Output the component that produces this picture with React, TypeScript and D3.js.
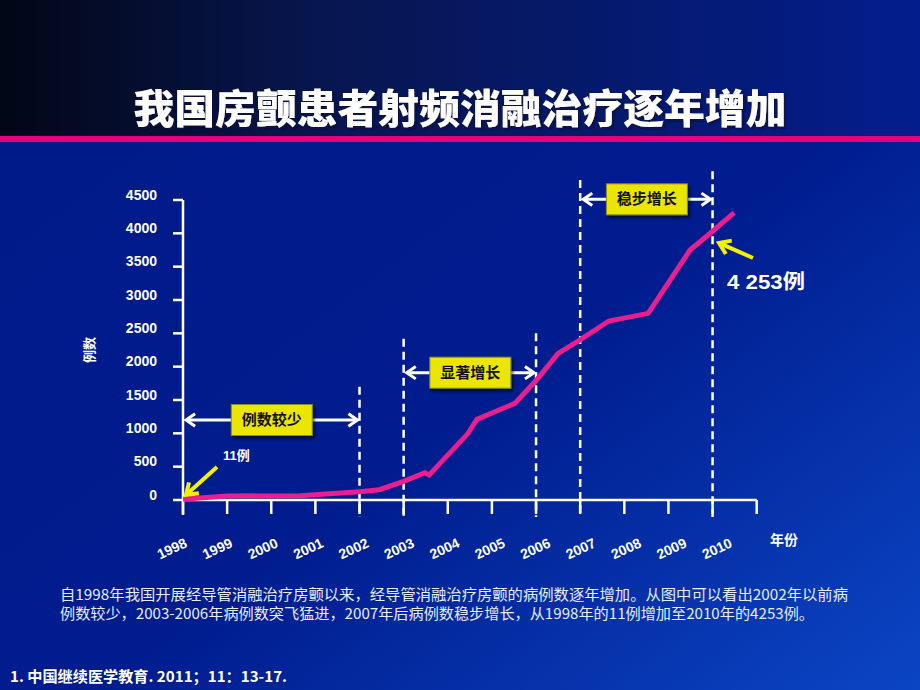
import React from "react";
import * as d3 from "d3";

const years = [1998, 1999, 2000, 2001, 2002, 2003, 2004, 2005, 2006, 2007, 2008, 2009, 2010];
const tickYears = [1998, 1999, 2000, 2001, 2002, 2003, 2004, 2005, 2006, 2007, 2008, 2009, 2010, 2011];
const yTicks = [0, 500, 1000, 1500, 2000, 2500, 3000, 3500, 4000, 4500];
const lineYears = [1998.0, 1999.0, 2000.65, 2002.0, 2002.45, 2003.0, 2003.48, 2003.58, 2004.46, 2004.66, 2005.52, 2006.01, 2006.5, 2006.97, 2007.65, 2008.54, 2009.49, 2009.9, 2010.49];
const lineValues = [11, 60, 65, 125, 155, 280, 410, 375, 1000, 1210, 1450, 1800, 2200, 2390, 2685, 2800, 3750, 3975, 4310];
const dashedYears = [2002, 2003, 2006, 2007, 2010];
const dashedTops = [1700, 2420, 2500, 4800, 4930];
const phaseLabels = ["例数较少", "显著增长", "稳步增长"];
const phaseStart = [1998, 2003, 2007];
const phaseEnd = [2002, 2006, 2010];
const phaseLevel = [1200, 1910, 4510];

const LATIN = "'Liberation Sans', Arial, 'Noto Sans CJK SC', sans-serif";
const CJK = "'Noto Sans CJK SC', 'Liberation Sans', sans-serif";

function Chevron({ x1, y1, x2, y2, color, w, size }: any) {
  const ang = Math.atan2(y2 - y1, x2 - x1);
  const a1 = ang + Math.PI - 0.6;
  const a2 = ang + Math.PI + 0.6;
  const p = `M${x2 + size * Math.cos(a1)},${y2 + size * Math.sin(a1)}L${x2},${y2}L${x2 + size * Math.cos(a2)},${y2 + size * Math.sin(a2)}`;
  return (
    <g>
      <line x1={x1} y1={y1} x2={x2 - Math.cos(ang) * 1} y2={y2 - Math.sin(ang) * 1} stroke={color} strokeWidth={w} />
      <path d={p} fill="none" stroke={color} strokeWidth={w} strokeLinecap="butt" strokeLinejoin="miter" />
    </g>
  );
}

export default function App() {
  const x = d3.scaleLinear().domain([1998, 2011]).range([183, 756.7]);
  const xl = d3.scaleLinear().domain([1998, 2010]).range([174, 719]);
  const y = d3.scaleLinear().domain([0, 4500]).range([500, 200]);
  const line = d3.line<number>().x((d, i) => x(lineYears[i])).y((d) => y(d));

  const boxW = 81;
  const boxH = 31;

  return (
    <svg width={920} height={690} style={{ position: "absolute", left: 0, top: 0 }}>
      <defs>
        <linearGradient id="hdr" x1="0" y1="0" x2="1" y2="0">
          <stop offset="0" stopColor="#020716" />
          <stop offset="0.35" stopColor="#071650" />
          <stop offset="1" stopColor="#031d8c" />
        </linearGradient>
        <linearGradient id="body" x1="0" y1="0" x2="1" y2="1">
          <stop offset="0" stopColor="#001a88" />
          <stop offset="0.55" stopColor="#001c8e" />
          <stop offset="1" stopColor="#0b45c4" />
        </linearGradient>
        <filter id="sh" x="-20%" y="-20%" width="150%" height="150%">
          <feDropShadow dx="2" dy="3" stdDeviation="1.5" floodColor="#000" floodOpacity="0.55" />
        </filter>
        <filter id="tsh" x="-5%" y="-20%" width="110%" height="150%">
          <feDropShadow dx="2" dy="2" stdDeviation="0.8" floodColor="#10103a" floodOpacity="0.9" />
        </filter>
      </defs>
      <rect x={0} y={0} width={920} height={690} fill="url(#body)" />
      <rect x={0} y={0} width={920} height={136} fill="url(#hdr)" />
      <rect x={0} y={136} width={920} height={6} fill="#e5007f" />

      <text x={460} y={123} textAnchor="middle" fontFamily={CJK} fontWeight={900} fontSize={40} fill="#ffffff" textLength={653} lengthAdjust="spacingAndGlyphs" filter="url(#tsh)">我国房颤患者射频消融治疗逐年增加</text>

      {/* dashed lines */}
      {dashedYears.map((yr, i) => (
        <line key={yr} x1={x(yr)} x2={x(yr)} y1={y(dashedTops[i])} y2={517} stroke="#ffffff" strokeWidth={2.5} strokeDasharray="8,5" />
      ))}

      {/* axes */}
      <line x1={x(1998)} x2={x(1998)} y1={y(4500)} y2={515} stroke="#fff" strokeWidth={2.5} />
      {yTicks.map((t) => (
        <g key={t}>
          <line x1={x(1998) - 10} x2={x(1998)} y1={y(t)} y2={y(t)} stroke="#fff" strokeWidth={2.5} />
          <text x={157} y={y(t) - 0.5} textAnchor="end" fontFamily={LATIN} fontWeight="bold" fontSize={14} fill="#fff">{t}</text>
        </g>
      ))}
      <line x1={x(1998)} x2={x(2011)} y1={y(0)} y2={y(0)} stroke="#fff" strokeWidth={2.5} />
      {tickYears.map((t) => (
        <line key={t} x1={x(t)} x2={x(t)} y1={y(0)} y2={514} stroke="#fff" strokeWidth={2.5} />
      ))}
      {years.map((t) => (
        <text key={t} transform={`translate(${xl(t)},${553}) rotate(-25)`} textAnchor="middle" fontFamily={LATIN} fontWeight="bold" fontSize={14} fill="#fff">{t}</text>
      ))}
      <text x={770} y={545} fontFamily={CJK} fontWeight="bold" fontSize={14} fill="#fff">年份</text>
      <text transform="translate(94,350) rotate(-90)" textAnchor="middle" fontFamily={CJK} fontWeight="bold" fontSize={13} fill="#fff">例数</text>

      {/* data line */}
      <path d={line(lineValues) || ""} fill="none" stroke="#ea1e8e" strokeWidth={5} strokeLinejoin="miter" />

      {/* phase arrows */}
      {phaseLabels.map((lab, i) => {
        const x0 = x(phaseStart[i]) + 3;
        const x1 = x(phaseEnd[i]) - 2;
        const yy = y(phaseLevel[i]);
        const cx = (x0 + x1) / 2;
        return (
          <g key={lab}>
            <Chevron x1={cx} y1={yy} x2={x0} y2={yy} color="#fff" w={3} size={11} />
            <Chevron x1={cx} y1={yy} x2={x1} y2={yy} color="#fff" w={3} size={11} />
            <rect x={cx - boxW / 2} y={yy - boxH / 2} width={boxW} height={boxH} fill="#ebe600" stroke="#8a8a20" strokeWidth={1} filter="url(#sh)" />
            <text x={cx} y={yy + 5} textAnchor="middle" fontFamily={CJK} fontWeight="bold" fontSize={15} fill="#111">{lab}</text>
          </g>
        );
      })}

      {/* callouts */}
      <Chevron x1={217} y1={467} x2={186} y2={495} color="#f5f000" w={4} size={13} />
      <text x={223} y={460} fontFamily={LATIN} fontWeight="bold" fontSize={13} fill="#fff">11例</text>
      <Chevron x1={753} y1={258} x2={719} y2={243} color="#f5f000" w={4} size={13} />
      <text x={727} y={289} fontFamily={LATIN} fontWeight="bold" fontSize={20} fill="#fff" textLength={78} lengthAdjust="spacingAndGlyphs">4 253例</text>

      {/* description */}
      <text x={60} y={600} fontFamily={CJK} fontSize={15} fill="#e8ecff" textLength={788} lengthAdjust="spacingAndGlyphs">自1998年我国开展经导管消融治疗房颤以来，经导管消融治疗房颤的病例数逐年增加。从图中可以看出2002年以前病</text>
      <text x={60} y={619} fontFamily={CJK} fontSize={15} fill="#e8ecff" textLength={754} lengthAdjust="spacingAndGlyphs">例数较少，2003-2006年病例数突飞猛进，2007年后病例数稳步增长，从1998年的11例增加至2010年的4253例。</text>

      <text x={10} y={682} fontFamily={CJK} fontWeight="bold" fontSize={15} fill="#fff" textLength={277} lengthAdjust="spacingAndGlyphs">1.  中国继续医学教育. 2011；11：13-17.</text>
    </svg>
  );
}
